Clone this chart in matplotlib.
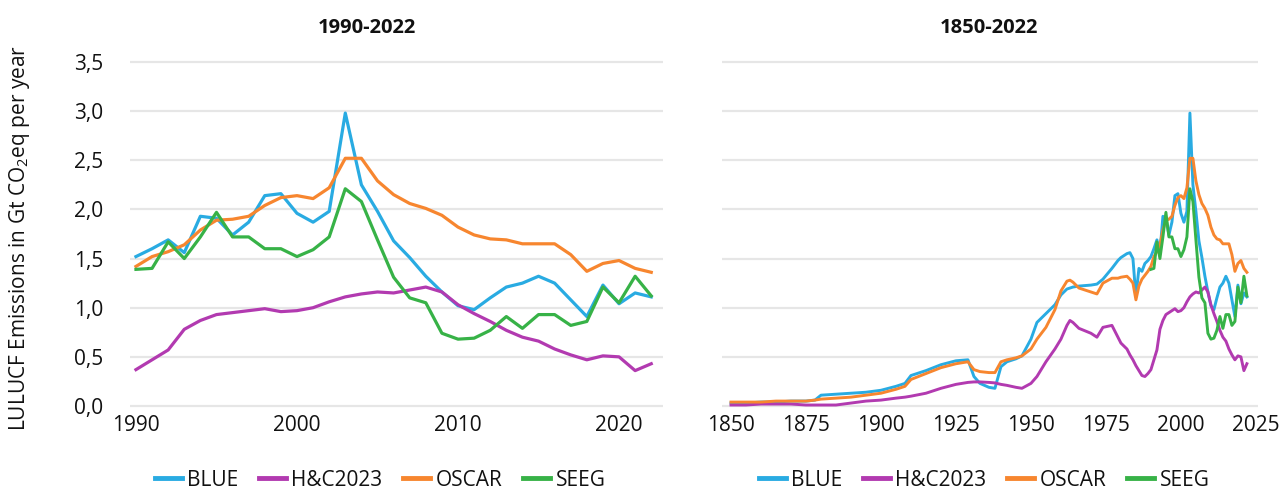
import matplotlib

matplotlib.use("Agg")
import matplotlib.pyplot as plt

plt.rcParams["font.family"] = ["Open Sans", "DejaVu Sans"]
plt.rcParams["mathtext.fontset"] = "custom"
plt.rcParams["mathtext.rm"] = "Open Sans"
plt.rcParams["mathtext.it"] = "Open Sans"

# --- 1990-2022, annual ---
years = list(range(1990, 2023))
blue = [1.52, 1.60, 1.69, 1.56, 1.93, 1.91, 1.74, 1.87, 2.14, 2.16, 1.96, 1.87,
        1.98, 2.98, 2.25, 1.98, 1.68, 1.51, 1.32, 1.16, 1.02, 0.98, 1.10, 1.21,
        1.25, 1.32, 1.25, 1.08, 0.91, 1.23, 1.04, 1.15, 1.11]
hc2023 = [0.37, 0.47, 0.57, 0.78, 0.87, 0.93, 0.95, 0.97, 0.99, 0.96, 0.97, 1.00,
          1.06, 1.11, 1.14, 1.16, 1.15, 1.18, 1.21, 1.16, 1.03, 0.94, 0.86, 0.77,
          0.70, 0.66, 0.58, 0.52, 0.47, 0.51, 0.50, 0.36, 0.43]
oscar = [1.42, 1.52, 1.57, 1.64, 1.79, 1.89, 1.90, 1.93, 2.04, 2.12, 2.14, 2.11,
         2.22, 2.52, 2.52, 2.29, 2.15, 2.06, 2.01, 1.94, 1.82, 1.74, 1.70, 1.69,
         1.65, 1.65, 1.65, 1.54, 1.37, 1.45, 1.48, 1.40, 1.36]
seeg = [1.39, 1.40, 1.67, 1.50, 1.72, 1.97, 1.72, 1.72, 1.60, 1.60, 1.52, 1.59,
        1.72, 2.21, 2.08, 1.69, 1.31, 1.10, 1.05, 0.74, 0.68, 0.69, 0.77, 0.91,
        0.79, 0.93, 0.93, 0.82, 0.86, 1.21, 1.05, 1.32, 1.12]

# --- 1850-1989, read at selected years ---
hist_years = [1850, 1855, 1860, 1865, 1870, 1875, 1878, 1880, 1885, 1890, 1895,
              1900, 1905, 1908, 1910, 1915, 1920, 1925, 1929, 1931, 1933, 1936,
              1938, 1940, 1942, 1945, 1947, 1950, 1952, 1955, 1958, 1960, 1962,
              1963, 1964, 1966, 1970, 1972, 1974, 1977, 1979, 1980, 1982, 1983,
              1984, 1985, 1986, 1987, 1988, 1989]
hist_blue = [0.03, 0.03, 0.04, 0.04, 0.05, 0.05, 0.06, 0.11, 0.12, 0.13, 0.14,
             0.16, 0.20, 0.23, 0.31, 0.36, 0.42, 0.46, 0.47, 0.30, 0.23, 0.19,
             0.18, 0.40, 0.45, 0.48, 0.51, 0.68, 0.85, 0.94, 1.03, 1.13, 1.19,
             1.20, 1.21, 1.22, 1.23, 1.24, 1.29, 1.40, 1.48, 1.51, 1.55, 1.56,
             1.50, 1.11, 1.40, 1.37, 1.45, 1.48]
hist_hc = [0.01, 0.01, 0.02, 0.02, 0.02, 0.01, 0.01, 0.01, 0.01, 0.03, 0.05,
           0.06, 0.08, 0.09, 0.10, 0.13, 0.18, 0.22, 0.24, 0.245, 0.245, 0.24,
           0.235, 0.22, 0.21, 0.19, 0.18, 0.23, 0.30, 0.45, 0.58, 0.68, 0.82,
           0.87, 0.85, 0.79, 0.74, 0.70, 0.80, 0.82, 0.70, 0.64, 0.58, 0.52,
           0.47, 0.41, 0.36, 0.31, 0.30, 0.33]
hist_oscar = [0.04, 0.04, 0.04, 0.05, 0.05, 0.05, 0.06, 0.07, 0.08, 0.09, 0.11,
              0.13, 0.17, 0.20, 0.27, 0.33, 0.39, 0.43, 0.45, 0.37, 0.35, 0.34,
              0.34, 0.45, 0.47, 0.49, 0.51, 0.58, 0.68, 0.80, 0.98, 1.17, 1.27,
              1.28, 1.26, 1.20, 1.16, 1.14, 1.25, 1.30, 1.30, 1.31, 1.32, 1.29,
              1.25, 1.08, 1.22, 1.29, 1.33, 1.37]

series = ["BLUE", "H&C2023", "OSCAR", "SEEG"]
colors = ["#29ABE2", "#B23AB0", "#F7862F", "#37B247"]
yticks = [0.0, 0.5, 1.0, 1.5, 2.0, 2.5, 3.0, 3.5]

W, H = 1287, 491
fig = plt.figure(figsize=(W / 100, H / 100), dpi=100)

ymin, ymax = -0.05, 3.55
ppu = 98.3  # pixels per unit on the y axis
bottom = 1 - (406 + (0 - ymin) * ppu) / H
height = (ymax - ymin) * ppu / H

ax1 = fig.add_axes([130 / W, bottom, 533 / W, height])
ax2 = fig.add_axes([722 / W, bottom, 536 / W, height])

TXT = "#111111"


def style(ax):
    ax.set_ylim(ymin, ymax)
    ax.set_yticks(yticks)
    ax.grid(axis="y", color="#E6E6E6", linewidth=1.6)
    ax.set_axisbelow(True)
    for s in ax.spines.values():
        s.set_visible(False)
    ax.tick_params(length=0, labelsize=15, colors=TXT)


style(ax1)
style(ax2)

recent = [blue, hc2023, oscar, seeg]
for name, vals, c in zip(series, recent, colors):
    ax1.plot(years, vals, color=c, linewidth=2.3, label=name, solid_joinstyle="round")
ax1.set_xlim(1989.63, 2022.73)
ax1.set_xticks([1990, 2000, 2010, 2020])
ax1.set_yticklabels([f"{v:.1f}".replace(".", ",") for v in yticks])
ax1.tick_params(axis="y", pad=19)
ax1.tick_params(axis="x", pad=3)

long_series = [
    (hist_years + years, hist_blue + blue),
    (hist_years + years, hist_hc + hc2023),
    (hist_years + years, hist_oscar + oscar),
    (years, seeg),
]
for name, (xs, ys), c in zip(series, long_series, colors):
    ax2.plot(xs, ys, color=c, linewidth=2.1, label=name, solid_joinstyle="round")
ax2.set_xlim(1847, 2025.7)
ax2.set_xticks([1850, 1875, 1900, 1925, 1950, 1975, 2000, 2025])
ax2.set_yticklabels([])
ax2.tick_params(axis="x", pad=3)

fig.text(367 / W, 1 - 28 / H, "1990-2022", ha="center", va="center",
         fontsize=14.5, fontweight="bold", color=TXT)
fig.text(989 / W, 1 - 28 / H, "1850-2022", ha="center", va="center",
         fontsize=14.5, fontweight="bold", color=TXT)
fig.text(20 / W, 1 - 238 / H, r"LULUCF Emissions in Gt CO$_2$eq per year",
         rotation=90, ha="center", va="center", fontsize=15, color=TXT)

leg_kw = dict(loc="center", ncol=4, frameon=False, fontsize=15,
              handlelength=1.3, handletextpad=0.25, columnspacing=1.0,
              borderaxespad=0, borderpad=0, labelcolor=TXT)
for ax, cx in [(ax1, 380), (ax2, 984)]:
    h, l = ax.get_legend_handles_labels()
    leg = ax.legend(h, l, bbox_to_anchor=(cx / W, 1 - 480 / H),
                    bbox_transform=fig.transFigure, **leg_kw)
    for line in leg.get_lines():
        line.set_linewidth(3.5)

fig.savefig("out.png", dpi=100)
